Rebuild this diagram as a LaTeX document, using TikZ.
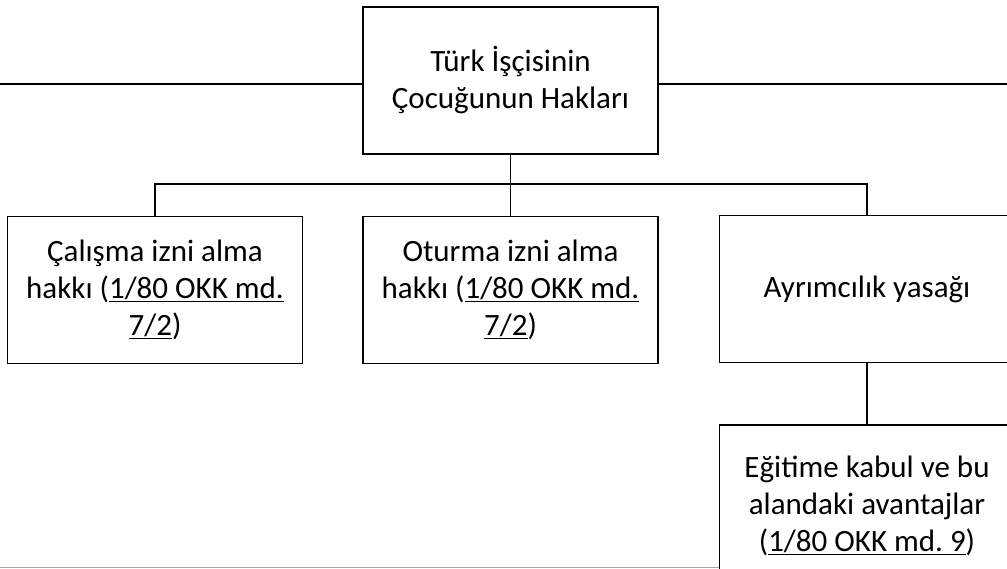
\documentclass[tikz,border=0pt]{standalone}
\usepackage{fontspec}
\setmainfont{Carlito}
\usetikzlibrary{positioning}
\frenchspacing
\newcommand\undl[1]{\setbox0=\hbox{#1}\rlap{\rule[-3.5pt]{\wd0}{1.6pt}}\box0}
\tikzset{
	every node/.style = {font=\fontsize{31}{37}\selectfont},
	hakbox/.style = {draw, line width=1.7pt, minimum width=295pt, minimum height=147pt, align=center, inner sep=0pt}
}
\begin{document}
\begin{tikzpicture}[x=1pt, y=-1pt, line width=1.7pt]
		\useasboundingbox (0,0) rectangle (1007,569);
		\clip (0,0) rectangle (1007,569);
		% top box
		\node[hakbox] (cocuk) at (510.5,80.5) {Türk İşçisinin\\Çocuğunun Hakları};
		\coordinate (solu) at (0,84);
		\coordinate (sagi) at (1007,84);
		\coordinate (bus) at (0,184);
		% second row
		\node[hakbox] (calisma) at (155,290) {Çalışma izni alma\\hakkı (\undl{1/80 OKK md.}\\\undl{7/2})};
		\node[hakbox] (oturma) at (510.5,290) {Oturma izni alma\\hakkı (\undl{1/80 OKK md.}\\\undl{7/2})};
		\node[hakbox] (ayrim) at (867,289) {Ayrımcılık yasağı};
		% third row
		\node[hakbox, minimum height=162pt] (egitim) at (867,506) {Eğitime kabul ve bu\\alandaki avantajlar\\(\undl{1/80 OKK md. 9})};
		% connectors
		\draw (solu) -- (cocuk.west |- solu);
		\draw (cocuk.east |- sagi) -- (sagi);
		\draw (cocuk.south) -- (oturma.north);
		\draw (calisma.north) -- (calisma.north |- bus) -- (ayrim.north |- bus) -- (ayrim.north);
		\draw (ayrim.south) -- (egitim.north);
		% bottom edge
		\draw[gray!70, line width=1pt] (0,567) -- (egitim.south west |- 0,567);
	\end{tikzpicture}
\end{document}
